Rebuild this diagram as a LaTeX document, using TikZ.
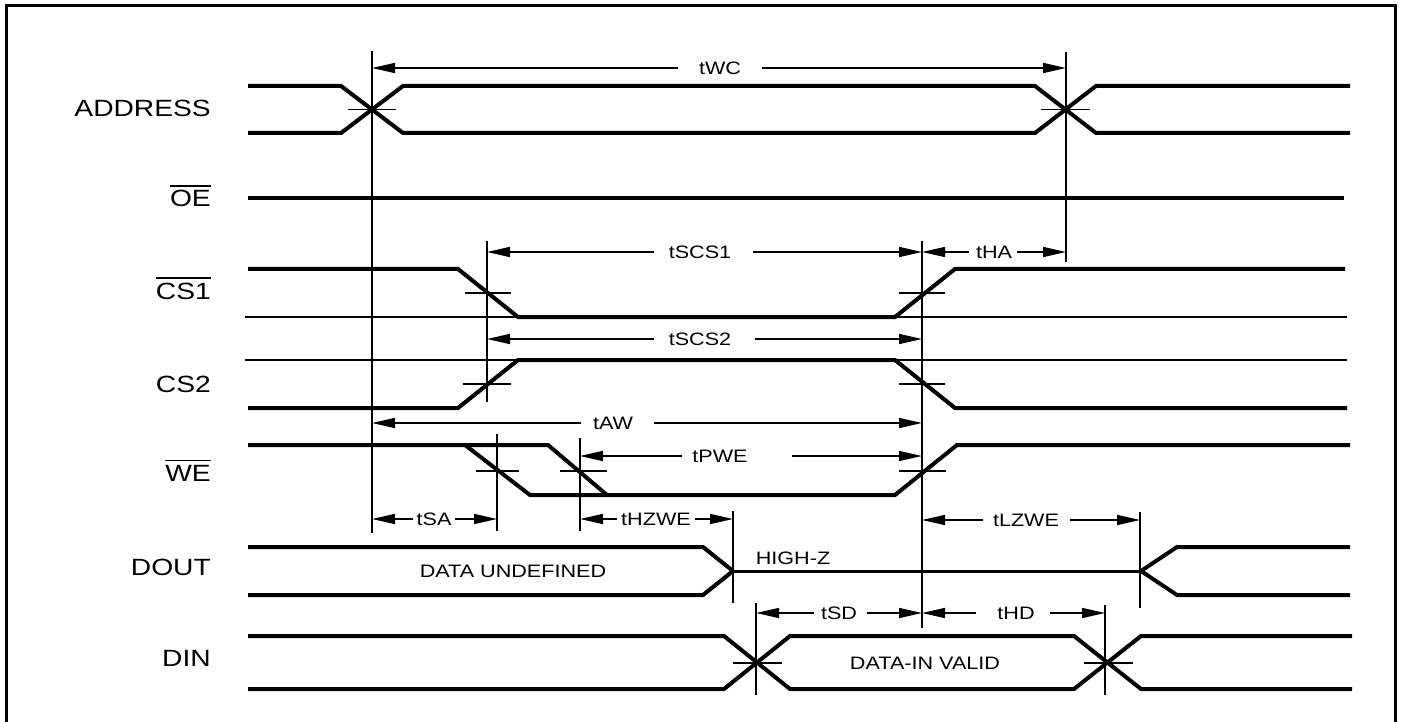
\documentclass[tikz,border=0pt]{standalone}
\usepackage{fontspec}
\setmainfont{Liberation Sans}
\usepackage{graphicx}
\usetikzlibrary{arrows.meta}
\newcommand\wtxt[1]{\scalebox{1.2}[1]{#1}}
\newcommand\ovl[1]{\vbox{\hrule height 1.8pt\kern 3.5pt\hbox{#1}}}
\newcommand\lblfont{\fontsize{23.5}{28}\selectfont}
\newcommand\tmfont{\fontsize{18}{22}\selectfont}
\tikzset{
  sig/.style={line width=4pt},
  refl/.style={line width=2.5pt},
  hiz/.style={line width=3pt},
  vln/.style={line width=1.6pt},
  tck/.style={line width=1.3pt},
  dimar/.style={line width=1.5pt,-{Triangle[length=23pt,width=10pt]}},
  lbl/.style={anchor=base east, inner sep=0pt, font=\lblfont},
  tm/.style={anchor=base, inner sep=0pt, font=\tmfont},
}
\begin{document}
\begin{tikzpicture}[x=1pt,y=-1pt]
\useasboundingbox (0,0) rectangle (1401,722);
\fill[white] (0,0) rectangle (1401,722);
% frame
\draw[line width=3pt] (6,726) -- (6,6) -- (1395,6) -- (1395,726);

% signal labels
\node[lbl] (lADDR) at (211,117) {\wtxt{ADDRESS}};
\node[lbl] (lOE)   at (211,207) {\wtxt{\ovl{OE}}};
\node[lbl] (lCS1)  at (211,299) {\wtxt{\ovl{CS1}}};
\node[lbl] (lCS2)  at (211,392) {\wtxt{CS2}};
\node[lbl] (lWE)   at (211,481) {\wtxt{\ovl{WE}}};
\node[lbl] (lDOUT) at (211,575) {\wtxt{DOUT}};
\node[lbl] (lDIN)  at (211,666) {\wtxt{DIN}};

% vertical timing lines
\coordinate (v1t) at (372,51);  \coordinate (v1b) at (372,533);
\coordinate (v2t) at (1066,52); \coordinate (v2b) at (1066,262);
\coordinate (v3t) at (487,241); \coordinate (v3b) at (487,402);
\coordinate (v4t) at (922,241); \coordinate (v4b) at (922,628);
\coordinate (v5t) at (497,434); \coordinate (v5b) at (497,531);
\coordinate (v6t) at (580,438); \coordinate (v6b) at (580,531);
\coordinate (v7t) at (733,511); \coordinate (v7b) at (733,603);
\coordinate (v8t) at (1140,512); \coordinate (v8b) at (1140,608);
\coordinate (v9t) at (756,603); \coordinate (v9b) at (756,695);
\coordinate (v10t) at (1105,605); \coordinate (v10b) at (1105,695);
\foreach \i in {1,...,10} {\draw[vln] (v\i t) -- (v\i b);}

% ADDRESS
\draw[sig] (248,86) -- (341,86) -- (403,133) -- (1035,133) -- (1096,86) -- (1350,86);
\draw[sig] (248,133) -- (341,133) -- (403,86) -- (1035,86) -- (1096,133) -- (1350,133);
\draw[tck] (348,109.5) -- (396,109.5);
\draw[tck] (1041,109.5) -- (1090,109.5);

% OE
\draw[sig] (248,198) -- (1344,198);

% CS1
\draw[refl] (245,317) -- (1347,317);
\draw[sig] (248,269) -- (458,269) -- (518,317) -- (895,317) -- (955,269) -- (1345,269);
\draw[tck] (465,293) -- (511,293);
\draw[tck] (899,293) -- (945,293);

% CS2
\draw[refl] (245,360) -- (1347,360);
\draw[sig] (248,408) -- (458,408) -- (518,360) -- (895,360) -- (955,408) -- (1347,408);
\draw[tck] (463,384) -- (511,384);
\draw[tck] (899,384) -- (945,384);

% WE
\draw[sig] (248,445) -- (548,445) -- (607,495);
\draw[sig] (465,445) -- (530,495) -- (895,495) -- (957,445) -- (1350,445);
\draw[tck] (476,471) -- (519,471);
\draw[tck] (560,471) -- (607,471);
\draw[tck] (899,471) -- (946,471);

% DOUT
\draw[sig] (248,547) -- (703,547) -- (733,571);
\draw[sig] (248,595) -- (703,595) -- (733,571);
\draw[hiz] (733,571) -- (1141,571);
\draw[sig] (1141,571) -- (1177,547) -- (1350,547);
\draw[sig] (1141,571) -- (1177,595) -- (1350,595);
\node[tm] (undef) at (513,577.5) {\wtxt{DATA UNDEFINED}};
\node[tm] (hiZ) at (793,564.5) {\wtxt{HIGH-Z}};

% DIN
\draw[sig] (248,636) -- (724,636) -- (790,689) -- (1074,689) -- (1141,636) -- (1352,636);
\draw[sig] (248,689) -- (724,689) -- (790,636) -- (1074,636) -- (1141,689) -- (1352,689);
\draw[tck] (733,663) -- (782,663);
\draw[tck] (1084,663) -- (1133,663);
\node[tm] (dinv) at (925,669.5) {\wtxt{DATA-IN VALID}};

% dimension arrows: y, left end, right end, gap left, gap right, text x, text
\foreach \y/\xa/\xb/\ga/\gb/\tx/\t/\n in {
  68/372/1066/678/762/720/tWC/dWC,
  252/487/922/654/753/700/tSCS1/dSCSa,
  252/922/1066/969/1017/994/tHA/dHA,
  339/487/922/654/755/700/tSCS2/dSCSb,
  423/372/922/581/654/613/tAW/dAW,
  456/580/922/682/792/720/tPWE/dPWE,
  519/372/497/413/455/434/tSA/dSA,
  519/580/733/617/695/656/tHZWE/dHZWE,
  520/922/1140/983/1070/1026/tLZWE/dLZWE,
  613/756/922/814/867/839/tSD/dSD,
  613/922/1105/976/1050/1016/tHD/dHD} {
  \node[tm] (\n) at (\tx,\y+6.5) {\wtxt{\t}};
  \draw[dimar] (\ga,\y) -- (\xa,\y);
  \draw[dimar] (\gb,\y) -- (\xb,\y);
}
\end{tikzpicture}
\end{document}
